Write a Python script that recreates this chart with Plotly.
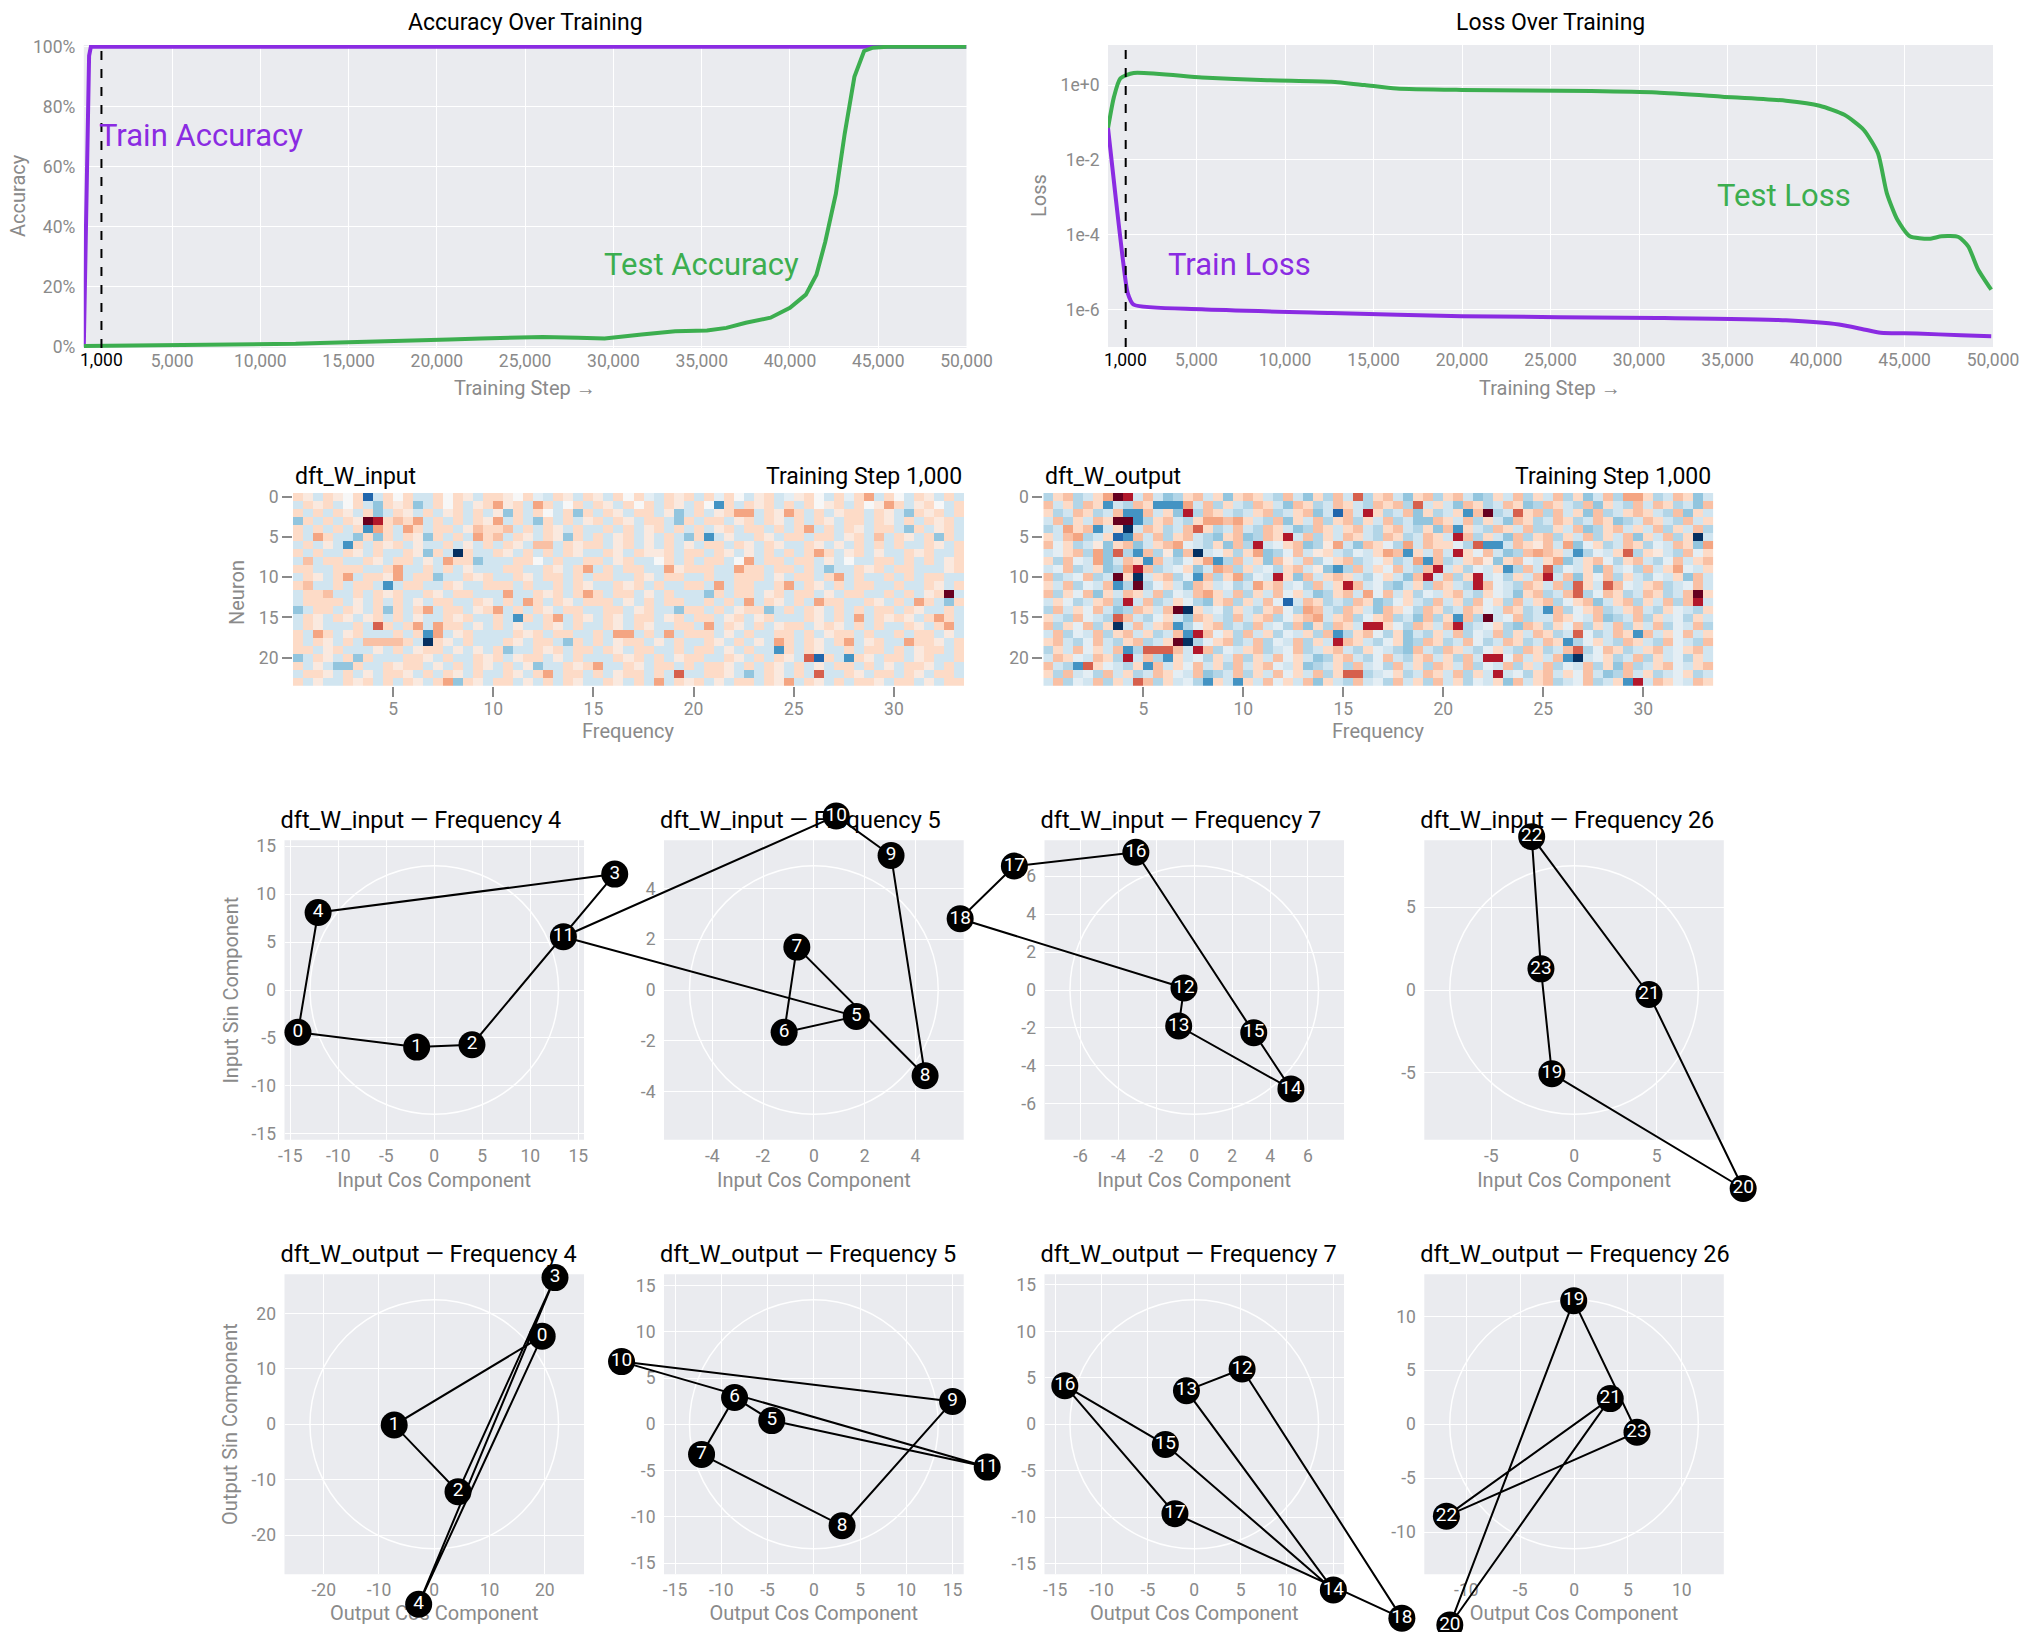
import plotly.graph_objects as go

W, H = 2024, 1632
FONT = "Roboto"
GREY = "#8a8a8a"
PURPLE = "#8a2be2"
GREEN = "#3cae4f"
BG = "#eaebef"

# ---------------- training curves ----------------
train_acc_steps = [0, 100, 200, 300, 400, 50000]
train_acc = [0.0, 0.30, 0.75, 0.97, 1.0, 1.0]

test_acc_steps = [0, 2000, 5000, 7500, 9800, 12000, 13400, 15000, 17100, 19000, 20700,
                  22500, 24400, 26000, 28000, 29500, 31600, 33500, 35300, 36400, 37500,
                  38900, 40000, 40900, 41500, 42000, 42600, 43100, 43650, 44200, 44700,
                  45500, 50000]
test_acc = [0.003, 0.004, 0.005, 0.007, 0.008, 0.010, 0.013, 0.015, 0.019, 0.021, 0.024,
            0.028, 0.032, 0.033, 0.030, 0.028, 0.041, 0.052, 0.054, 0.063, 0.080,
            0.097, 0.130, 0.174, 0.240, 0.350, 0.510, 0.710, 0.900, 0.986, 0.997,
            1.0, 1.0]

test_loss_steps = [0, 340, 700, 1450, 5300, 9000, 12600, 14500, 16300, 20000, 27300,
                   31000, 34700, 38300, 40200, 41600, 42700, 43500, 44000, 44600, 45300,
                   46400, 47100, 48050, 48600, 49150, 49900]
test_loss = [0.071, 0.49, 1.5, 2.1, 1.6, 1.35, 1.23, 1.0, 0.81, 0.74, 0.69,
             0.63, 0.49, 0.38, 0.28, 0.16, 0.063, 0.015, 0.0013, 0.00025, 9.1e-5,
             7.8e-5, 9.1e-5, 8.7e-5, 4.9e-5, 1.2e-5, 3.4e-6]

train_loss_steps = [0, 450, 820, 1110, 1450, 5300, 12600, 20000, 31000, 38300, 41300,
                    42700, 43650, 45700, 48200, 49900]
train_loss = [0.071, 8.5e-4, 2.6e-5, 2.8e-6, 1.35e-6, 1.02e-6, 8.1e-7, 6.6e-7, 6.0e-7,
              5.2e-7, 4.0e-7, 2.95e-7, 2.4e-7, 2.3e-7, 2.05e-7, 1.95e-7]

current_step = 1000
step_ticks = [5000, 10000, 15000, 20000, 25000, 30000, 35000, 40000, 45000, 50000]
step_tick_text = ["5,000", "10,000", "15,000", "20,000", "25,000", "30,000", "35,000",
                  "40,000", "45,000", "50,000"]
acc_ticks = [0, 0.2, 0.4, 0.6, 0.8, 1.0]
acc_tick_text = ["0%", "20%", "40%", "60%", "80%", "100%"]
loss_ticks = [1, 1e-2, 1e-4, 1e-6]
loss_tick_text = ["1e+0", "1e-2", "1e-4", "1e-6"]

# ---------------- DFT heatmaps (24 neurons x 67 components) ----------------
heat_levels = {"X": 1.0, "R": 0.8, "r": 0.6, "o": 0.4, "q": 0.3, "p": 0.2, "i": 0.1,
               ".": 0.0, "j": -0.1, "c": -0.2, "d": -0.3, "b": -0.4, "B": -0.6,
               "D": -0.8, "N": -1.0}
freq_ticks = [5, 10, 15, 20, 25, 30]
neuron_ticks = [0, 5, 10, 15, 20]

dft_W_input_rows = [
    "picpi.pDcp .pccp.picp pi.pjcpicp icp.pjcpip cpjp.cipcj ip.cpjpocp .cpicpc",
    "cpipc.pcbp ipbcp.pcip oipcopc.pc picp.pcpic p.Bpcpipcp cp.ipcp.io pcip.cp",
    "pcpcpicpbc picpcipcpc ibpcp.cpbp cpicppcibc pcipoocpio pcpcippcpi cbpipcp",
    "bpcpcpiXRp qpocpcpcpi ocpcbpcpci pcpicppcbp cppcipcpic pcpicppcpi cpcpipc",
    "pcpcpcpBop copcppciqp pqcpcpicpc cpcpcipcpc pcipcppcpc pocpcpicpp cbpcipc",
    "pcopccbpbp cpibpcpcop qcpicpibpc pcipcicpcb pBciccpicp pcppcipcqc picpbpc",
    "cpcicBpcpi pciccpcicp cpicqqcpip pcipcicpci cppcpicpic cpicicpcpc pccpicp",
    "pcpccpicpc cpibpcNpcc picpcpcpic cpicpiipcp pcpicicpcp cpopcipcic cpipccp",
    "cqcppccpic ppcicoppbc ccpp.cpccp pcipcc.pcp cppc.ocppc ppcic.ccpp cpcpcip",
    "ppccpppccp occpcpcicc cppccpicpo cpcppccoip ppccoppcpp cpcbccpipc ppcccip",
    "cpicpocppi ocppbccpip ccpicppcpc ppccpicppc cpccpppcic ppcpocpccp cpcppcc",
    "pqccpcppcB cppccpiccp ppcpccpcpi ccpipcpccp pcocppccpo cpicpcppcc pccpicp",
    "cppqccpcpi pccpicppcc coccpipcpo pcppcicpcc cbpcppcipc ppcicppccp cpcipXc",
    "cppppcicpc pcicppccpi cpcopcpicp ppcicpcppc cpcpcocpic pcoppccpic pcopcbp",
    "bcppcpicpb pcpocppcip ocpcpicppc cppcipccbp pcpcippbcp cpicpcpcpp cpiccpc",
    "cpicpicipc pciccpipcc pcBpcpocpi cpicppcipc ppcipcipcc cpicpcocpi picpopc",
    "cpicccpcrp cpocoppcic pciccpicpc cpicpiccpp cocpicpcip pcipicpcpc cpicpoc",
    "pcopcipccc pcpBocipcc ccpipcppcc pcoocpcocp ppcicpccpp cpcippcpcc pcppcic",
    "pcpicpcqqq qpcNpicpcc cpicppcbpc pcippcicpc cpicpcicop cpicpocipc coppicp",
    "ppcipcccic pcippcicic pbccpipcpp cpicppccpc ppcicpccBp cpiccpcppc pcippcp",
    "bcpicpbpcc cppicpccpi pcippcicpc ccpipcpcip pccpicpcpi crDpcBpicp pcipccp",
    "pcicbbpccp ippcicpcpi cpcibccpip occpicppcp cppicpcpic pcicppcpci cppicpc",
    "cppicpcicp picpcpicpc cpicpocppc pcippcpcrc cppicbcpic pcrccpicpp cpicppc",
    "pciccpipcp cpicpobpic ppcicpcpic cpicpcocpi pcicppcpio cpicpcppic ppcicpp",
]

dft_W_output_rows = [
    "dpqdcpoXRc qcbdpqcpbp qpcdqcbpdq crdpqcbpqd pqcbdpcqdp cqdpbcqdoo pdcqpbc",
    "qcpdqpBcdq pBBBocqdpc dqpcbqpdcq pcdqpqdrcp cbqpdcqpbd qpcdqbpcdq cqpdcbq",
    "pdcqpdcqBB qcpbRdqpcd cpqdcpqbcD qcRpdcqbpd cpBqXdcrpq dqcpbqdcpq pcdqbpc",
    "cqdpcqpXXB dpqcdpooqo pcdqbpcqdp qdpcqdcbbq pcqdpcbqpd cqpdcqpbdc qpcdqcp",
    "dcopqBcpNc qpdcqrpdcq cdqpcbdqpc pqcdpqcdpb qBpcdqpcqd dpcqbdpqcp cqdpcqd",
    "pcqodcpDBq cqdpqcdbpq bdqpRcqdpc qpcdqpdcqp cRqdpcbqdp qdpcqdpcqb pcqdpNc",
    "qjpdcibpqb cpqojcdpbq dRcjpqbdio cbqpjdocqp pjdrBBcqpi qcobjpdcqp djcqpbo",
    "cjpqdobrdB qdibqNcjpd pobdjqcipc djcpoqBpcq cRpjqcbdqo qpcBdjcprd picdqjp",
    "pdqjcobcqp BqcdjpoBdq cpbqicqdjp qdcjpdcoBq dcpqibpqjc pobcpqjdpq cdjqcpq",
    "cjqdcpbdoR qdcjpbcoqd pcjdpqcibB dqcpjqcdqR cpdjcpBdqc rdjcpbqcjd qcpojcp",
    "qdcjqdcXpN cpqdjBqdpo djcRpbqcpq pcdjpcbqRc qdpRcjdpcq Rcqbpjqdpc djcpbqc",
    "pcqdjcqBdX djpcbqpcjd copqcjdqcp Rqcjdbcpdq pcdRqjcdqp cqdrpcrqjc pqdcjqc",
    "qdpjqbpcqp cqdjcqopcq dpcqjpcbdp qcojqcpdjc pqcdpjcbpq dcqrdjqpdc qpdcqXp",
    "cpjdcpqdRc qdcpjdbpqd pcqjDcqpdc dqpbdjpcdq cpdqjpdqcp qdjpqbcpqd pcqdqRc",
    "dqcpjqcbdq pcqXNpcjdp cdpqjdoqcd qpcbqpjdqp dcqpjcqpdc Bqdjpqdcpq cdpjcdp",
    "pcdqjcdrqc djpcbqpcdq cpqdjpqocp qdjpqdcbqd pBqdXcjqdc cqpjcqbdcq dpcjdpc",
    "qdpjqdpNcq cpqBdjpqdc dqcjdqbpdq pcRRpjdqpc qRdcjpdbqp dpjqdpcqdp cqdjcqd",
    "cqdjcqdpqc pdcqBRqjpd qcpdjcpdqB dpqjdpbcdp cqdjcqdpcq pdcrjdcqpB qcpjqcp",
    "pqcdjqcdpq dcpXNdjpqd cqdjcqdpcR qpcdjpbdqp dcqjdcqpdc qpBdjpcdqp cdqjcdq",
    "dpcqjpcqBd rrrqcRqdjc pqdcjqdcpq cdpjcdbqcd qpcdjpcdqp dcqrdjqpdc pqcjpqc",
    "cqpjcqpdRc qdBpcjdpcq dpcqjpcbdp qcdjqcdpqc pdqcRRjqcp cqBNcjpdcq dpcjdpc",
    "qcdBrpjcdp Bqcpjqcpdq cpqjcpbdcp dqcjdqcpdq pcqdjcqdpc qdjcqdpbqd cpqjcpq",
    "pdqcjdqcpd cqpjcqbdcq dpcqjpcqdp rrdcjpdcqp cqdpcRcjdp qcpjqcbdqc pdcjpdc",
    "cqdjcqdpcr qdpcjdBpcB pcqjpcqbpc dqcjdqcpdq cpdjcpbqcp qdcjqdcpBR cqpjcqp",
]

# ---------------- neuron DFT components per frequency ----------------
freqs = [4, 5, 7, 26]
freq_neurons = [[0, 1, 2, 3, 4], [5, 6, 7, 8, 9, 10, 11], [12, 13, 14, 15, 16, 17, 18],
                [19, 20, 21, 22, 23]]
input_cos = [-14.2, -1.83, 3.93, 18.8, -12.1, 1.67, -1.17, -0.67, 4.38, 3.04, 0.88, -9.86,
             -0.54, -0.82, 5.10, 3.14, -3.08, -9.49, -12.35, -1.34, 10.22, 4.53, -2.56, -2.0]
input_sin = [-4.4, -5.95, -5.7, 12.08, 8.08, -1.04, -1.67, 1.69, -3.38, 5.30, 6.86, 2.10,
             0.11, -1.90, -5.22, -2.25, 7.27, 6.54, 3.76, -5.06, -12.0, -0.27, 9.27, 1.28]
output_cos = [19.53, -7.25, 4.3, 21.85, -2.82, -4.55, -8.57, -12.14, 3.05, 15.0, -20.79, 18.74,
              5.16, -0.84, 15.0, -3.12, -13.96, -2.08, 22.39, -0.03, -11.53, 3.36, -11.85, 5.84]
output_sin = [15.92, -0.14, -12.18, 26.5, -32.5, 0.4, 2.9, -3.25, -10.96, 2.47, 6.77, -4.62,
              5.95, 3.62, -17.83, -2.18, 4.16, -9.62, -20.87, 11.46, -18.6, 2.38, -8.51, -0.74]
input_half_range = [15.6, 5.9, 7.9, 9.05]
output_half_range = [27.1, 16.2, 16.15, 13.9]
input_dtick = [5, 2, 2, 5]
output_dtick = [10, 5, 5, 5]

# ================= figure =================
RDBU = [[0.0, "#053061"], [0.1, "#2166ac"], [0.2, "#4393c3"], [0.3, "#92c5de"],
        [0.4, "#d1e5f0"], [0.5, "#f7f7f7"], [0.6, "#fddbc7"], [0.7, "#f4a582"],
        [0.8, "#d6604d"], [0.9, "#b2182b"], [1.0, "#67001f"]]

TICK_SIZE = 17.5
AXIS_TITLE = 20
TITLE = 23
SUB_TITLE = 23.5
BIG = 31


def decode(rows):
    out = []
    for r in rows:
        s = r.replace(" ", "")
        s = (s + "." * 67)[:67]
        out.append([heat_levels.get(ch, 0.0) for ch in s])
    return out


def pxx(p):
    return p / W


def pxy(p):
    return 1 - p / H


fig = go.Figure()
shapes = []
annotations = []
L = {}


def bg_rect(x0, x1, y0, y1):
    shapes.append(dict(type="rect", xref="paper", yref="paper", x0=pxx(x0), x1=pxx(x1),
                       y0=pxy(y1), y1=pxy(y0), fillcolor=BG, line=dict(width=0), layer="below"))


def label(x, y, text, size, color="black", xanchor="center", angle=0):
    annotations.append(dict(x=pxx(x), y=pxy(y), xref="paper", yref="paper", text=text,
                            showarrow=False, xanchor=xanchor, yanchor="middle", textangle=angle,
                            font=dict(family=FONT, size=size, color=color)))


def axis_style(**kw):
    d = dict(showgrid=True, gridcolor="white", gridwidth=1, zeroline=False, showline=False,
             ticks="outside", ticklen=4, tickcolor="rgba(0,0,0,0)", automargin=False,
             tickfont=dict(family=FONT, size=TICK_SIZE, color=GREY), fixedrange=True)
    d.update(kw)
    return d


def hidden_axis(**kw):
    d = dict(domain=[0, 1], visible=False, fixedrange=True, automargin=False,
             showgrid=False, zeroline=False)
    d.update(kw)
    return d


# ---- accuracy panel ----
acc_x = (83.8, 966.5)
top_y = (45, 348)
L["xaxis"] = axis_style(domain=[pxx(acc_x[0]), pxx(acc_x[1])], range=[0, 50000],
                        tickvals=step_ticks, ticktext=step_tick_text, anchor="y",
                        ticklen=0, ticklabelstandoff=-3)
L["yaxis"] = axis_style(domain=[pxy(top_y[1]), pxy(top_y[0])], range=[-0.004, 1.006],
                        tickvals=acc_ticks, ticktext=acc_tick_text, anchor="x")
bg_rect(acc_x[0], acc_x[1], top_y[0], top_y[1])
fig.add_trace(go.Scatter(x=train_acc_steps, y=train_acc, mode="lines",
                         line=dict(color=PURPLE, width=4), xaxis="x", yaxis="y", hoverinfo="skip"))
fig.add_trace(go.Scatter(x=test_acc_steps, y=test_acc, mode="lines",
                         line=dict(color=GREEN, width=4), xaxis="x", yaxis="y", hoverinfo="skip"))
shapes.append(dict(type="line", xref="x", yref="y domain", x0=current_step, x1=current_step,
                   y0=0, y1=1, line=dict(color="black", width=2, dash="dash"), layer="above"))

# ---- loss panel ----
loss_x = (1108, 1993)
L["xaxis2"] = axis_style(domain=[pxx(loss_x[0]), pxx(loss_x[1])], range=[0, 50000],
                         tickvals=step_ticks, ticktext=step_tick_text, anchor="y2",
                         ticklen=0, ticklabelstandoff=-3)
L["yaxis2"] = axis_style(domain=[pxy(347), pxy(45)], type="log", range=[-7.0, 1.07],
                         tickvals=loss_ticks, ticktext=loss_tick_text, anchor="x2")
bg_rect(loss_x[0], loss_x[1], 45, 347)
fig.add_trace(go.Scatter(x=test_loss_steps, y=test_loss, mode="lines", line_shape="spline",
                         line=dict(color=GREEN, width=4, smoothing=0.6), xaxis="x2", yaxis="y2",
                         hoverinfo="skip"))
fig.add_trace(go.Scatter(x=train_loss_steps, y=train_loss, mode="lines", line_shape="spline",
                         line=dict(color=PURPLE, width=4, smoothing=0.6), xaxis="x2", yaxis="y2",
                         hoverinfo="skip"))
shapes.append(dict(type="line", xref="x2", yref="y2 domain", x0=current_step, x1=current_step,
                   y0=0, y1=1, line=dict(color="black", width=2, dash="dash"), layer="above"))

label(525, 23, "Accuracy Over Training", TITLE)
label(1550, 23, "Loss Over Training", TITLE)
label(18, 196, "Accuracy", AXIS_TITLE, GREY, angle=-90)
label(1039, 196, "Loss", AXIS_TITLE, GREY, angle=-90)
label(525, 388, "Training Step →", AXIS_TITLE, GREY)
label(1550, 388, "Training Step →", AXIS_TITLE, GREY)
label(101.5, 360, "1,000", TICK_SIZE, "black")
label(1125.7, 360, "1,000", TICK_SIZE, "black")
label(97, 135, "Train Accuracy", BIG, PURPLE, xanchor="left")
label(602, 265, "Test Accuracy", BIG, GREEN, xanchor="left")
label(1715, 195, "Test Loss", BIG, GREEN, xanchor="left")
label(1166, 265, "Train Loss", BIG, PURPLE, xanchor="left")

# ---- heatmaps ----
heat_style = dict(showgrid=False, zeroline=False, showline=False, ticks="outside", ticklen=10,
                  tickwidth=1.5, tickcolor=GREY, automargin=False,
                  tickfont=dict(family=FONT, size=TICK_SIZE, color=GREY), fixedrange=True)
heat_y = (493, 685.7)
for k, (rows, hx, name) in enumerate([(dft_W_input_rows, (293, 964), "dft_W_input"),
                                      (dft_W_output_rows, (1043.3, 1713.3), "dft_W_output")]):
    ax = 3 + k
    L[f"xaxis{ax}"] = dict(heat_style, domain=[pxx(hx[0]), pxx(hx[1])], range=[0, 33.5],
                           tickvals=freq_ticks, anchor=f"y{ax}", ticklabelstandoff=-3)
    L[f"yaxis{ax}"] = dict(heat_style, domain=[pxy(heat_y[1]), pxy(heat_y[0])],
                           range=[23.5, -0.5], tickvals=neuron_ticks, anchor=f"x{ax}")
    fig.add_trace(go.Heatmap(z=decode(rows), x0=0.25, dx=0.5, y0=0, dy=1, colorscale=RDBU,
                             zmin=-1, zmax=1, showscale=False, xaxis=f"x{ax}", yaxis=f"y{ax}",
                             hoverinfo="skip"))
    label(hx[0], 476, name, TITLE, xanchor="left")
    label(hx[1], 476, "Training Step 1,000", TITLE, xanchor="right")
    label((hx[0] + hx[1]) / 2, 731, "Frequency", AXIS_TITLE, GREY)
label(237, 593, "Neuron", AXIS_TITLE, GREY, angle=-90)

# ---- scatter grids ----
sx_dom = [(284.5, 584), (664, 963.7), (1044.5, 1344), (1424.3, 1723.8)]
row_dom = [(840.3, 1139.7), (1274.3, 1574.3)]
rows_cfg = [("dft_W_input", "Input", input_cos, input_sin, input_half_range, input_dtick),
            ("dft_W_output", "Output", output_cos, output_sin, output_half_range, output_dtick)]

# text layer in page-pixel coordinates, drawn below the neuron markers
L["xaxis13"] = hidden_axis(range=[0, W], anchor="y13")
L["yaxis13"] = hidden_axis(range=[H, 0], anchor="x13")
title_x, title_y, title_t = [], [], []
xt_x, xt_y, xt_t = [], [], []

for r, (mat, word, cos_v, sin_v, halves, dticks) in enumerate(rows_cfg):
    y0p, y1p = row_dom[r]
    for c in range(4):
        k = 5 + r * 4 + c
        kk = 14 + r * 4 + c
        h = halves[c]
        x0p, x1p = sx_dom[c]
        dt = dticks[c]
        n = int(h // dt)
        tv = [i * dt for i in range(-n, n + 1)]
        tt = [str(v) for v in tv]
        L[f"xaxis{k}"] = axis_style(domain=[pxx(x0p), pxx(x1p)], range=[-h, h], tickvals=tv,
                                    ticktext=tt, anchor=f"y{k}", ticklen=0)
        L[f"yaxis{k}"] = axis_style(domain=[pxy(y1p), pxy(y0p)], range=[-h, h], tickvals=tv,
                                    ticktext=tt, anchor=f"x{k}")
        bg_rect(x0p, x1p, y0p, y1p)
        rad = 0.83 * h
        shapes.append(dict(type="circle", xref=f"x{k}", yref=f"y{k}", x0=-rad, x1=rad, y0=-rad,
                           y1=rad, line=dict(color="rgba(255,255,255,0.95)", width=1.5),
                           layer="below"))
        # overlay axes spanning the whole figure with the same data->pixel mapping
        sxs = 2 * h / (x1p - x0p)
        sys_ = 2 * h / (y1p - y0p)
        L[f"xaxis{kk}"] = hidden_axis(range=[-h - x0p * sxs, h + (W - x1p) * sxs],
                                      anchor=f"y{kk}")
        L[f"yaxis{kk}"] = hidden_axis(range=[-h - (H - y1p) * sys_, h + y0p * sys_],
                                      anchor=f"x{kk}")
        ids = freq_neurons[c]
        loop = ids + [ids[0]]
        fig.add_trace(go.Scatter(x=[cos_v[i] for i in loop], y=[sin_v[i] for i in loop],
                                 mode="lines", line=dict(color="black", width=2),
                                 xaxis=f"x{kk}", yaxis=f"y{kk}", cliponaxis=False,
                                 hoverinfo="skip"))
        fig.add_trace(go.Scatter(x=[cos_v[i] for i in ids], y=[sin_v[i] for i in ids],
                                 mode="markers+text", text=[str(i) for i in ids],
                                 textposition="middle center",
                                 textfont=dict(family=FONT, size=19, color="white"),
                                 marker=dict(size=27, color="black", line=dict(width=0)),
                                 xaxis=f"x{kk}", yaxis=f"y{kk}", cliponaxis=False,
                                 hoverinfo="skip"))
        title_x.append(x0p - 4)
        title_y.append(822 if r == 0 else 1256)
        title_t.append(f"{mat} — Frequency {freqs[c]}")
        xt_x.append((x0p + x1p) / 2)
        xt_y.append(1182 if r == 0 else 1615)
        xt_t.append(f"{word} Cos Component")
    label(230.6, (y0p + y1p) / 2, f"{word} Sin Component", AXIS_TITLE, GREY, angle=-90)

fig.add_trace(go.Scatter(x=title_x, y=title_y, text=title_t, mode="text",
                         textposition="middle right",
                         textfont=dict(family=FONT, size=SUB_TITLE, color="black"),
                         xaxis="x13", yaxis="y13", cliponaxis=False, hoverinfo="skip"))
fig.add_trace(go.Scatter(x=xt_x, y=xt_y, text=xt_t, mode="text", textposition="middle center",
                         textfont=dict(family=FONT, size=AXIS_TITLE, color=GREY),
                         xaxis="x13", yaxis="y13", cliponaxis=False, hoverinfo="skip"))

fig.update_layout(template="none", width=W, height=H, autosize=False,
                  margin=dict(l=0, r=0, t=0, b=0, pad=0, autoexpand=False),
                  paper_bgcolor="white", plot_bgcolor="rgba(0,0,0,0)", showlegend=False,
                  font=dict(family=FONT, color=GREY), shapes=shapes, annotations=annotations,
                  **L)

fig.write_html("out.html", config={"displayModeBar": False})
